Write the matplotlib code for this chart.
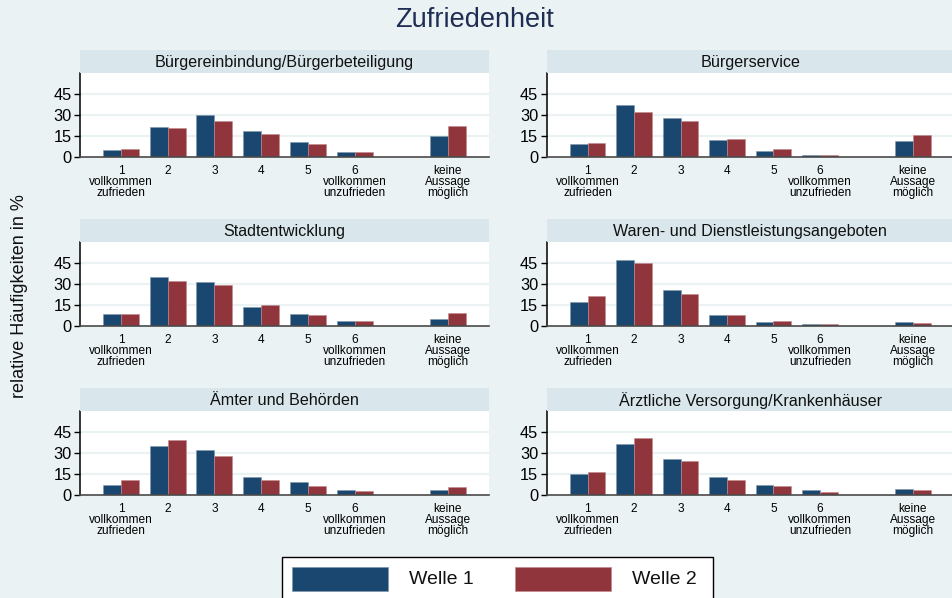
import matplotlib
matplotlib.use("Agg")
import matplotlib.pyplot as plt
from matplotlib.patches import Rectangle
import numpy as np

plt.rcParams['font.family'] = ['Liberation Sans', 'DejaVu Sans']

# ---------------- data ----------------
categories = ["1\nvollkommen\nzufrieden", "2", "3", "4", "5",
              "6\nvollkommen\nunzufrieden", "keine\nAussage\nmöglich"]
cat_pos = [1, 2, 3, 4, 5, 6, 8]
panel_titles = ["Bürgereinbindung/Bürgerbeteiligung", "Bürgerservice",
                "Stadtentwicklung", "Waren- und Dienstleistungsangeboten",
                "Ämter und Behörden", "Ärztliche Versorgung/Krankenhäuser"]
series_names = ["Welle 1", "Welle 2"]

buerger_w1 = [4.7, 21.1, 29.6, 18.2, 10.4, 3.6, 14.7]
buerger_w2 = [5.5, 20.6, 25.4, 16.4, 9.0, 3.3, 21.8]
service_w1 = [9.2, 36.7, 27.5, 11.6, 4.3, 1.4, 11.1]
service_w2 = [9.7, 32.2, 25.4, 12.6, 5.2, 1.2, 15.4]
stadt_w1 = [8.3, 34.6, 31.0, 13.0, 8.1, 3.3, 5.0]
stadt_w2 = [8.3, 32.2, 28.9, 14.5, 7.3, 3.1, 9.0]
waren_w1 = [16.6, 46.9, 25.4, 7.8, 2.8, 1.2, 2.4]
waren_w2 = [21.3, 45.0, 22.3, 7.8, 3.6, 1.2, 1.9]
aemter_w1 = [7.1, 34.7, 32.1, 12.3, 9.0, 3.5, 3.5]
aemter_w2 = [10.6, 38.9, 27.8, 10.6, 6.4, 2.4, 5.4]
arzt_w1 = [14.4, 36.3, 25.2, 12.3, 7.1, 3.3, 3.8]
arzt_w2 = [16.0, 40.3, 24.3, 10.8, 5.9, 1.7, 3.3]

panel_data = [(buerger_w1, buerger_w2), (service_w1, service_w2),
              (stadt_w1, stadt_w2), (waren_w1, waren_w2),
              (aemter_w1, aemter_w2), (arzt_w1, arzt_w2)]
yticks = [0, 15, 30, 45]

# ---------------- style ----------------
W, H = 952, 598
BG = "#EAF2F3"
STRIP = "#D9E6EB"
C1 = "#1A476F"
C2 = "#90353B"
TITLE_C = "#1E2D53"

fig = plt.figure(figsize=(W / 100, H / 100), dpi=100, facecolor=BG)

def fx(px):
    return px / W

def fy(py):
    return 1 - py / H

col_left = [80, 546.7]
col_width = [409, 407]
plot_top0 = 72.5
plot_h = 84.2
row_step = 169
strip_h = 22.5
bw = 0.385

for i, (title, (w1, w2)) in enumerate(zip(panel_titles, panel_data)):
    r, c = divmod(i, 2)
    top = plot_top0 + r * row_step
    left = col_left[c]
    ax = fig.add_axes([fx(left), fy(top + plot_h), col_width[c] / W, plot_h / H])
    ax.set_facecolor("white")
    x = np.array(cat_pos, dtype=float)
    ax.bar(x - bw / 2, w1, width=bw, color=C1, edgecolor="#7f96ad", linewidth=0.4, zorder=3)
    ax.bar(x + bw / 2, w2, width=bw, color=C2, edgecolor="#c08a8e", linewidth=0.4, zorder=3)
    ax.set_xlim(0.12, 8.88)
    ax.set_ylim(0, 60)
    ax.set_yticks(yticks)
    ax.set_yticklabels([str(t) for t in yticks], fontsize=11.8)
    for t in yticks[1:]:
        ax.axhline(t, color=BG, lw=1.6, zorder=1)
    ax.set_xticks(cat_pos)
    ax.set_xticklabels(categories, fontsize=8.6, linespacing=0.88)
    ax.tick_params(axis="x", length=0, pad=6)
    ax.tick_params(axis="y", length=4, width=1, color="black", pad=2)
    for s in ["top", "right"]:
        ax.spines[s].set_visible(False)
    ax.spines["left"].set_color("black")
    ax.spines["left"].set_linewidth(1.1)
    ax.spines["bottom"].set_color("#4a4a4a")
    ax.spines["bottom"].set_linewidth(1.2)
    ax.spines["bottom"].set_zorder(4)
    # strip
    sax = fig.add_axes([fx(left), fy(top), col_width[c] / W, strip_h / H])
    sax.set_facecolor(STRIP)
    sax.set_xticks([]); sax.set_yticks([])
    for s in sax.spines.values():
        s.set_visible(False)
    sax.text(0.5, 0.45, title, ha="center", va="center", fontsize=11.6,
             color="#111111", transform=sax.transAxes)

# main title
fig.text(fx(475), fy(20), "Zufriedenheit", ha="center", va="center",
         fontsize=19.5, color=TITLE_C)
# y label
fig.text(fx(20), fy(296), "relative Häufigkeiten in %", rotation=90,
         ha="center", va="center", fontsize=13, color="#111111")

# legend
fig.patches.append(Rectangle((fx(281.7), fy(605)), fx(713) - fx(281.7), fy(556.7) - fy(605),
                             transform=fig.transFigure, facecolor="white",
                             edgecolor="black", linewidth=1.0))
fig.patches.append(Rectangle((fx(292.3), fy(591)), fx(388.3) - fx(292.3), fy(566.7) - fy(591),
                             transform=fig.transFigure, facecolor=C1,
                             edgecolor="#7f96ad", linewidth=0.5))
fig.patches.append(Rectangle((fx(515), fy(591)), fx(610.7) - fx(515), fy(566.7) - fy(591),
                             transform=fig.transFigure, facecolor=C2,
                             edgecolor="#c08a8e", linewidth=0.5))
fig.text(fx(409), fy(579), series_names[0], ha="left", va="center", fontsize=14, color="#111111")
fig.text(fx(632.3), fy(579), series_names[1], ha="left", va="center", fontsize=14, color="#111111")

fig.savefig("out.png", dpi=100, facecolor=BG)
